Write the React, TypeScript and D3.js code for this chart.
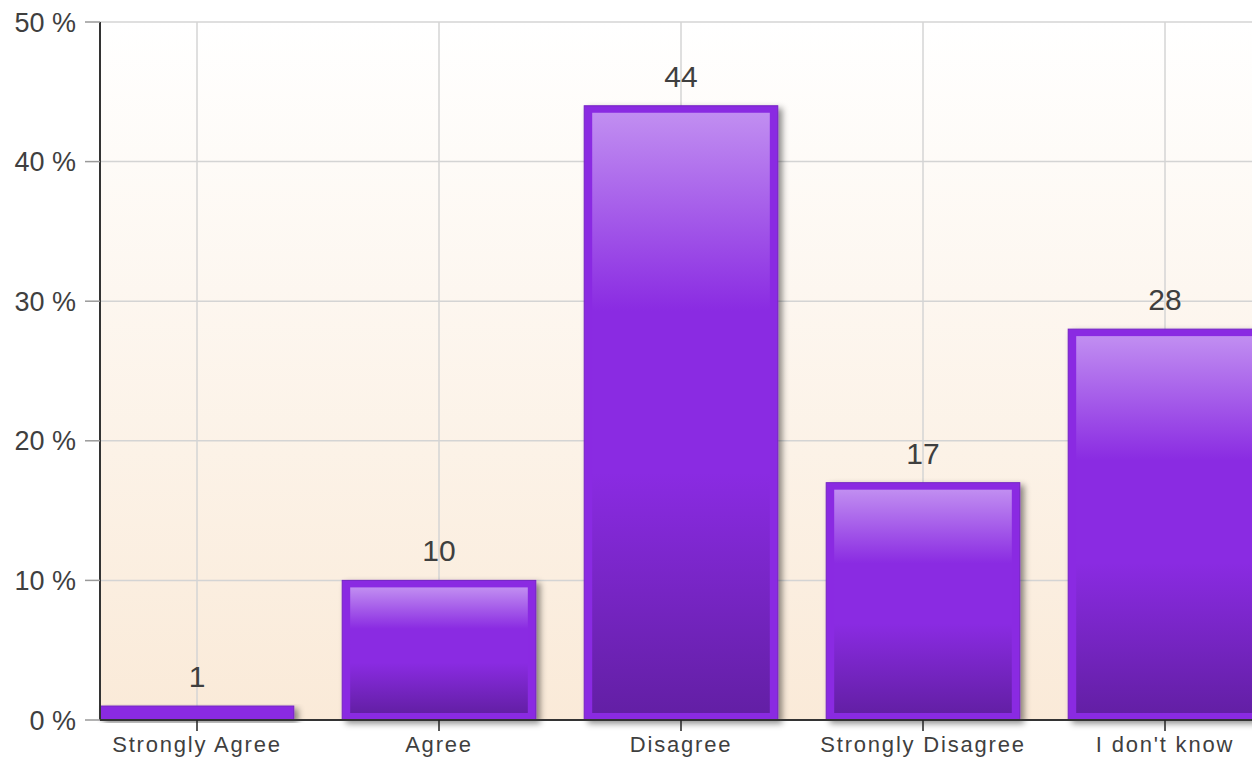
import React from "react";
import * as d3 from "d3";

const categories = ["Strongly Agree", "Agree", "Disagree", "Strongly Disagree", "I don't know"];
const values = [1, 10, 44, 17, 28];
const yTicks = [0, 10, 20, 30, 40, 50];

const W = 1252;
const H = 757;
const plotLeft = 100;
const plotTop = 22;
const plotBottom = 720;

export default function App() {
  const x = d3.scaleBand<string>().domain(categories).range([76, 1286]).padding(0);
  const y = d3.scaleLinear().domain([0, 50]).range([plotBottom, plotTop]);
  const bw = x.bandwidth() * 0.8;
  const cx = (c: string) => (x(c) as number) + x.bandwidth() / 2;
  const font = "'Liberation Sans', Arial, sans-serif";
  const inset = 7;

  return (
    <svg width={W} height={H} style={{ position: "absolute", left: 0, top: 0 }} fontFamily={font}>
      <defs>
        <linearGradient id="bg" x1="0" y1="0" x2="0" y2="1">
          <stop offset="0" stopColor="#ffffff" />
          <stop offset="1" stopColor="#faead8" />
        </linearGradient>
        <linearGradient id="barg" x1="0" y1="0" x2="0" y2="1">
          <stop offset="0" stopColor="#c18ef1" />
          <stop offset="0.33" stopColor="#8a2be2" />
          <stop offset="0.6" stopColor="#8a2be2" />
          <stop offset="1" stopColor="#631fa5" />
        </linearGradient>
        <filter id="shadow" x="-10%" y="-10%" width="130%" height="130%">
          <feDropShadow dx="4" dy="3" stdDeviation="3" floodColor="#000" floodOpacity="0.45" />
        </filter>
      </defs>
      <rect x={plotLeft} y={plotTop} width={W - plotLeft} height={plotBottom - plotTop} fill="url(#bg)" />
      {yTicks.map((t) => (
        <line key={"h" + t} x1={plotLeft} x2={W} y1={y(t)} y2={y(t)} stroke="#d4d4d4" strokeWidth={1.5} />
      ))}
      {categories.map((c) => (
        <line key={"v" + c} x1={cx(c)} x2={cx(c)} y1={plotTop} y2={plotBottom} stroke="#d4d4d4" strokeWidth={1.5} />
      ))}
      {categories.map((c, i) => {
        const v = values[i];
        const x0 = cx(c) - bw / 2;
        const y0 = y(v);
        const h = plotBottom - y0;
        const innerH = h - inset * 2;
        return (
          <g key={"b" + c}>
            <rect x={x0} y={y0} width={bw} height={h} fill="#8a2be2" stroke="#7424c4" strokeWidth={1} filter="url(#shadow)" />
            {innerH > 0 && (
              <rect x={x0 + inset + 1} y={y0 + inset} width={bw - 2 * inset - 2} height={innerH} fill="url(#barg)" />
            )}
          </g>
        );
      })}
      {categories.map((c, i) => (
        <text key={"l" + c} x={cx(c)} y={y(values[i]) - 19} textAnchor="middle" fontSize={30} fill="#3f3f3f">
          {values[i]}
        </text>
      ))}
      <line x1={plotLeft} x2={plotLeft} y1={plotTop} y2={plotBottom} stroke="#333" strokeWidth={2} />
      {yTicks.map((t) => (
        <g key={"yt" + t}>
          <line x1={85} x2={plotLeft} y1={y(t)} y2={y(t)} stroke="#999" strokeWidth={1.5} />
          <text x={76} y={y(t) + 9.5} textAnchor="end" fontSize={27} fill="#3f3f3f">
            {t} %
          </text>
        </g>
      ))}
      <line x1={plotLeft} x2={W} y1={plotBottom} y2={plotBottom} stroke="#333" strokeWidth={2} />
      {categories.map((c) => (
        <g key={"xt" + c}>
          <line x1={cx(c)} x2={cx(c)} y1={plotBottom} y2={plotBottom + 11} stroke="#222" strokeWidth={1.5} />
          <text x={cx(c)} y={752} textAnchor="middle" fontSize={22} letterSpacing={1.8} fill="#3f3f3f">
            {c}
          </text>
        </g>
      ))}
    </svg>
  );
}
